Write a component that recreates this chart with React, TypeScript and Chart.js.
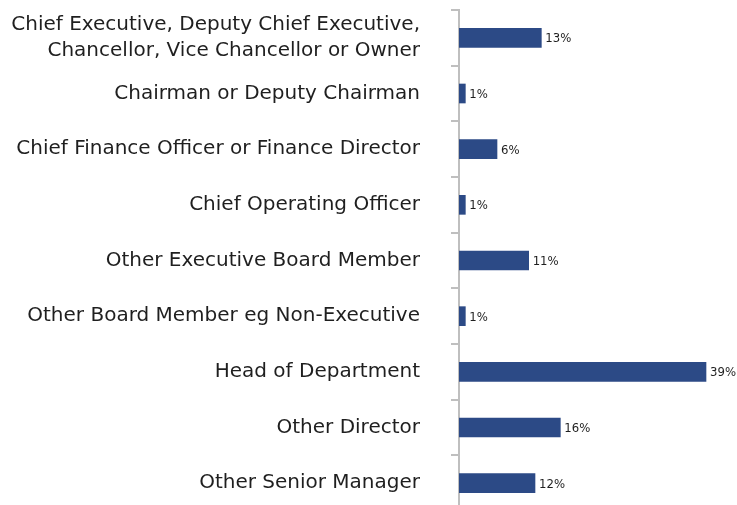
import React, { useEffect, useRef } from "react";
import { Chart, registerables } from "chart.js";

Chart.register(...registerables);

const categories: (string | string[])[] = [
  ["Chief Executive, Deputy Chief Executive,", "Chancellor, Vice Chancellor or Owner"],
  "Chairman or Deputy Chairman",
  "Chief Finance Officer or Finance Director",
  "Chief Operating Officer",
  "Other Executive Board Member",
  "Other Board Member eg Non-Executive",
  "Head of Department",
  "Other Director",
  "Other Senior Manager",
];

const values: number[] = [13, 1, 6, 1, 11, 1, 39, 16, 12];

const labelPlugin = {
  id: "barValueLabels",
  afterDatasetsDraw(chart: any) {
    const ctx = chart.ctx;
    const meta = chart.getDatasetMeta(0);
    const data = chart.data.datasets[0].data as number[];
    ctx.save();
    ctx.font = "13px 'DejaVu Sans Condensed', 'DejaVu Sans', sans-serif";
    ctx.fillStyle = "#1f1f1f";
    ctx.textAlign = "left";
    ctx.textBaseline = "middle";
    meta.data.forEach((el: any, i: number) => {
      ctx.fillText(`${data[i]}%`, el.x + 4, el.y + 1);
    });
    ctx.restore();
  },
};

export default function App() {
  const ref = useRef<HTMLCanvasElement | null>(null);

  useEffect(() => {
    if (!ref.current) return;
    const chart = new Chart(ref.current, {
      type: "bar",
      data: {
        labels: categories,
        datasets: [
          {
            data: values,
            backgroundColor: "#2C4A86",
            borderWidth: 0,
            barThickness: 19,
          },
        ],
      },
      options: {
        indexAxis: "y",
        animation: false,
        responsive: false,
        events: [],
        layout: { padding: { top: 10, bottom: 10, left: 0, right: 12 } },
        plugins: {
          legend: { display: false },
          tooltip: { enabled: false },
          title: { display: false },
        },
        scales: {
          x: {
            display: false,
            min: 0,
            max: 42,
          },
          y: {
            afterFit: (scale: any) => {
              scale.width = 459;
              scale.paddingTop = 0;
              scale.paddingBottom = 0;
            },
            border: { display: true, color: "#BFBFBF", width: 2 },
            grid: {
              display: true,
              drawOnChartArea: false,
              drawTicks: true,
              tickLength: 8,
              color: "#BFBFBF",
              lineWidth: 2,
              offset: true,
            },
            ticks: {
              padding: 31,
              color: "#1f1f1f",
              autoSkip: false,
              font: { family: "'DejaVu Sans', sans-serif", size: 20, lineHeight: 1.3 },
            },
          },
        },
      },
      plugins: [labelPlugin],
    });
    return () => chart.destroy();
  }, []);

  return (
    <div
      style={{
        position: "absolute",
        top: 0,
        left: 0,
        width: 737,
        height: 505,
        overflow: "hidden",
        background: "#fff",
      }}
    >
      <canvas ref={ref} width={737} height={521} style={{ display: "block", width: 737, height: 521 }} />
    </div>
  );
}
